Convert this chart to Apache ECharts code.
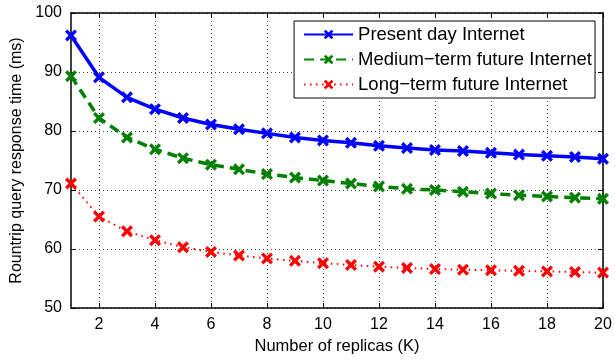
<!DOCTYPE html>
<html>
<head>
<meta charset="utf-8">
<script src="https://cdn.jsdelivr.net/npm/echarts@6/dist/echarts.min.js"></script>
<style>html,body{margin:0;padding:0;background:#fff}#c{width:615px;height:360px}</style>
</head>
<body>
<div id="c"></div>
<script>
const replicas = ['1','2','3','4','5','6','7','8','9','10','11','12','13','14','15','16','17','18','19','20'];
const presentDay = [96.2, 89.1, 85.7, 83.7, 82.2, 81.1, 80.3, 79.6, 78.9, 78.4, 78.0, 77.5, 77.1, 76.8, 76.6, 76.3, 76.0, 75.8, 75.6, 75.3];
const mediumTerm = [89.3, 82.2, 78.9, 76.9, 75.4, 74.3, 73.5, 72.7, 72.1, 71.6, 71.1, 70.6, 70.2, 70.0, 69.7, 69.4, 69.1, 68.9, 68.7, 68.5];
const longTerm = [71.1, 65.5, 63.0, 61.5, 60.3, 59.5, 58.9, 58.4, 58.0, 57.6, 57.3, 57.0, 56.8, 56.6, 56.5, 56.4, 56.3, 56.2, 56.1, 56.0];
const yTicks = [50, 60, 70, 80, 90, 100];
const seriesNames = ['Present day Internet', 'Medium\u2212term future Internet', 'Long\u2212term future Internet'];

const xMark = 'path://M0,2 L2,0 L5,3 L8,0 L10,2 L7,5 L10,8 L8,10 L5,7 L2,10 L0,8 L3,5 Z';
const FONT = 'Liberation Sans';
const evenIdx = (i) => (i % 2 === 1);

const chart = echarts.init(document.getElementById('c'), null, {renderer: 'canvas'});
const yMin = yTicks[0], yMax = yTicks[yTicks.length - 1], yInt = yTicks[1] - yTicks[0];

chart.setOption({
  animation: false,
  backgroundColor: '#fff',
  textStyle: {fontFamily: FONT},
  grid: {left: 71, right: 12, top: 13, bottom: 45},
  legend: {
    orient: 'vertical', right: 20, top: 21,
    backgroundColor: '#fff', borderColor: '#000', borderWidth: 1, borderRadius: 0,
    padding: [4, 3, 4, 9], itemGap: 6, itemWidth: 49, itemHeight: 12,
    textStyle: {fontFamily: FONT, fontSize: 18.5, color: '#000'},
    data: seriesNames
  },
  xAxis: [{
    type: 'category', data: replicas, boundaryGap: false,
    name: 'Number of replicas (K)', nameLocation: 'middle', nameGap: 30,
    nameTextStyle: {fontFamily: FONT, fontSize: 16.5, color: '#000'},
    axisLine: {lineStyle: {color: '#000', width: 1.5}},
    axisTick: {inside: true, length: 5, interval: (i) => evenIdx(i), lineStyle: {color: '#000'}},
    axisLabel: {interval: (i) => evenIdx(i), fontFamily: FONT, fontSize: 16, color: '#000', margin: 9},
    splitLine: {show: true, interval: (i) => evenIdx(i), lineStyle: {color: '#444', type: [1, 3], width: 1}}
  }, {
    type: 'category', data: replicas, boundaryGap: false, position: 'top',
    axisLine: {lineStyle: {color: '#000', width: 1.5}},
    axisTick: {inside: true, length: 5, interval: (i) => evenIdx(i), lineStyle: {color: '#000'}},
    axisLabel: {show: false}, splitLine: {show: false}
  }],
  yAxis: [{
    type: 'value', min: yMin, max: yMax, interval: yInt,
    name: 'Rountrip query response time (ms)', nameLocation: 'middle', nameGap: 43,
    nameTextStyle: {fontFamily: FONT, fontSize: 16, color: '#000'},
    axisLine: {show: true, lineStyle: {color: '#000', width: 1.5}},
    axisTick: {show: true, inside: true, length: 5, lineStyle: {color: '#000'}},
    axisLabel: {fontFamily: FONT, fontSize: 16, color: '#000', margin: 9},
    splitLine: {show: true, lineStyle: {color: '#444', type: [1, 3], width: 1}}
  }, {
    type: 'value', min: yMin, max: yMax, interval: yInt, position: 'right',
    axisLine: {show: true, lineStyle: {color: '#000', width: 1.5}},
    axisTick: {show: true, inside: true, length: 5, lineStyle: {color: '#000'}},
    axisLabel: {show: false}, splitLine: {show: false}
  }],
  series: [{
    name: seriesNames[0], type: 'line', data: presentDay,
    symbol: xMark, symbolSize: 12, showAllSymbol: true,
    itemStyle: {color: '#0000ff'},
    lineStyle: {color: '#0000ff', width: 3.5}
  }, {
    name: seriesNames[1], type: 'line', data: mediumTerm,
    symbol: xMark, symbolSize: 12, showAllSymbol: true,
    itemStyle: {color: '#008000'},
    lineStyle: {color: '#008000', width: 3.5, type: [10, 6]}
  }, {
    name: seriesNames[2], type: 'line', data: longTerm,
    symbol: xMark, symbolSize: 12, showAllSymbol: true,
    itemStyle: {color: '#ff0000'},
    lineStyle: {color: '#ff0000', width: 2, type: [1.5, 4.5]}
  }]
});
</script>
</body>
</html>
